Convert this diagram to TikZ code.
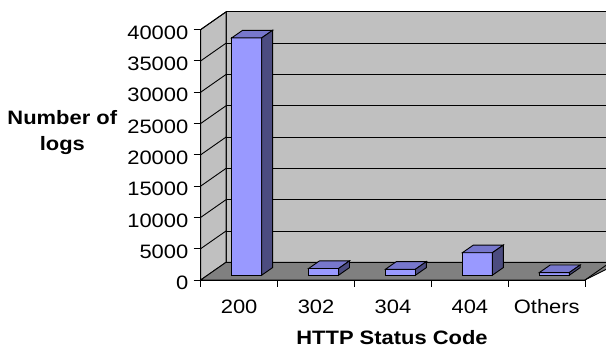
\documentclass[tikz,border=0pt]{standalone}
\usepackage{fontspec}
\setmainfont[FakeStretch=1.13]{Liberation Sans}
\usepackage{tikz}
\usetikzlibrary{calc}
\tikzset{>=latex}
\definecolor{wallgray}{RGB}{192, 192, 192}
\definecolor{floorgray}{RGB}{128, 128, 128}
\definecolor{barfront}{RGB}{153, 153, 255}
\definecolor{bartop}{RGB}{119, 119, 204}
\definecolor{barside}{RGB}{76, 76, 128}
\tikzset{
  ticklabel/.style = {font = \fontsize{19.4}{22}\selectfont, inner sep = 0pt},
  axistitle/.style = {font = \fontsize{19.4}{26}\selectfont\bfseries, align = center, inner sep = 0pt},
  chartline/.style = {line width = 0.9pt, black}
}

\begin{document}
\begin{tikzpicture}[x = 1pt, y = -1pt]
\useasboundingbox (0, 0) rectangle (606, 348);
\clip (0, 0) rectangle (606, 348);
% walls and floor
\filldraw[chartline, fill = wallgray] (226, 11.9) -- (620, 11.9) -- (620, 262.3) -- (226, 262.3) -- cycle;
\filldraw[chartline, fill = wallgray] (200.7, 29.6) -- (226, 11.9) -- (226, 262.3) -- (200.7, 280) -- cycle;
\filldraw[chartline, fill = floorgray] (200.7, 280) -- (226, 262.3) -- (620, 262.3) -- (585, 280) -- cycle;
% grid lines
\foreach \k in {1,...,8} {
  \draw[chartline] (226, 262.3 - 31.3*\k) -- (620, 262.3 - 31.3*\k);
  \draw[chartline] (200.7, 280 - 31.3*\k) -- (226, 262.3 - 31.3*\k);
}
% axes
\draw[chartline] (200.7, 29.6) -- (200.7, 280) -- (585, 280);
\draw[chartline] (585, 280) -- (610.3, 262.3);
\foreach \k/\val in {0/0, 1/5000, 2/10000, 3/15000, 4/20000, 5/25000, 6/30000, 7/35000, 8/40000} {
  \draw[chartline] (193.5, 280 - 31.3*\k) -- (200.7, 280 - 31.3*\k);
  \node[ticklabel, anchor = east] (ylab\k) at (188.5, 283 - 31.3*\k) {\val};
}
% bars
\foreach \i/\h/\lab in {0/237.3/200, 1/6.7/302, 2/6.0/304, 3/22.5/404, 4/2.6/Others} {
  \pgfmathsetmacro{\bx}{231.7 + 76.9*\i}
  \pgfmathsetmacro{\bt}{275.2 - \h}
  \draw[chartline] (200.7 + 76.9*\i, 280) -- (200.7 + 76.9*\i, 286.5);
  \filldraw[chartline, fill = barfront] (\bx, 275.2) rectangle (\bx + 30, \bt);
  \filldraw[chartline, fill = bartop] (\bx, \bt) -- ++(10.9, -7.6) -- ++(30, 0) -- ++(-10.9, 7.6) -- cycle;
  \filldraw[chartline, fill = barside] (\bx + 30, 275.2) -- ++(10.9, -7.6) -- (\bx + 40.9, \bt - 7.6) -- (\bx + 30, \bt) -- cycle;
  \node[ticklabel, anchor = base] (xlab\i) at (239.15 + 76.9*\i, 313) {\lab};
}
\draw[chartline] (585, 280) -- (585, 286.5);
% titles
\node[axistitle, anchor = base] (ytitle) at (62.3, 150.7) {Number of\\logs};
\node[axistitle, anchor = base] (xtitle) at (392, 344) {HTTP Status Code};
\end{tikzpicture}
\end{document}
